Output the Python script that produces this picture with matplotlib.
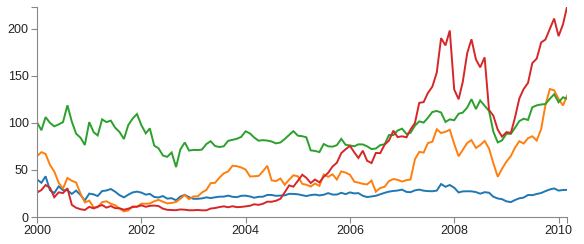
import numpy as np
import pandas as pd
import matplotlib
matplotlib.use("Agg")
import matplotlib.pyplot as plt
import matplotlib.dates as mdates

# monthly closing prices, Jan 2000 - Mar 2010
months = pd.date_range("2000-01-01", "2010-03-01", freq="MS")

msft = [39.81, 36.35, 43.22, 28.37, 25.45, 32.54, 28.4, 28.4, 24.53, 28.02, 23.34, 17.65,
        24.84, 24, 22.25, 27.56, 28.14, 29.7, 26.93, 23.21, 20.82, 23.65, 26.12, 26.95,
        25.92, 23.73, 24.53, 21.26, 20.71, 22.25, 19.52, 19.97, 17.79, 21.75, 23.46, 21.03,
        19.31, 19.34, 19.76, 20.87, 20.09, 20.93, 21.56, 21.65, 22.69, 21.45, 21.1, 22.46,
        22.69, 21.77, 20.46, 21.45, 21.53, 23.44, 23.38, 22.47, 22.76, 23.02, 24.6, 24.52,
        24.11, 23.15, 22.24, 23.28, 23.82, 22.93, 23.64, 25.35, 23.83, 23.8, 25.71, 24.29,
        26.14, 25.04, 25.36, 22.5, 21.19, 21.8, 22.51, 24.13, 25.68, 26.96, 27.66, 28.13,
        29.07, 26.63, 26.35, 28.3, 29.11, 27.95, 27.5, 27.34, 28.04, 35.03, 32.09, 34,
        31.13, 26.07, 27.21, 27.34, 27.25, 26.47, 24.75, 26.36, 25.78, 21.57, 19.66, 18.91,
        16.63, 15.81, 17.99, 19.84, 20.59, 23.42, 23.18, 24.43, 25.49, 27.48, 29.27, 30.34,
        28.05, 28.67, 28.8]

amzn = [64.56, 68.87, 67, 55.19, 48.31, 36.31, 30.12, 41.5, 38.44, 36.62, 24.69, 15.56,
        17.31, 10.19, 10.23, 15.78, 16.69, 14.15, 12.49, 8.94, 5.97, 6.98, 11.32, 10.82,
        14.19, 14.1, 14.3, 16.69, 18.23, 16.25, 14.45, 14.94, 15.93, 19.36, 23.35, 18.89,
        21.85, 22.01, 26.03, 28.69, 35.89, 36.32, 41.64, 46.32, 48.43, 54.43, 53.97, 52.62,
        50.4, 43.01, 43.28, 43.6, 48.5, 54.4, 38.92, 38.14, 40.86, 34.13, 39.68, 44.29,
        43.22, 35.18, 34.27, 32.36, 35.51, 33.09, 45.15, 42.7, 45.3, 39.86, 48.46, 47.15,
        44.82, 37.44, 36.53, 35.21, 34.61, 38.68, 26.89, 30.83, 32.12, 38.09, 40.34, 39.46,
        37.67, 39.14, 39.79, 61.33, 69.14, 68.41, 78.54, 79.91, 93.15, 89.15, 90.56, 92.64,
        77.7, 64.47, 71.3, 78.63, 81.62, 73.33, 76.34, 80.81, 72.76, 57.24, 42.7, 51.28,
        58.82, 64.79, 73.44, 80.52, 77.99, 83.66, 85.76, 81.19, 93.36, 118.81, 135.91, 134.52,
        125.41, 118.4, 128.82]

ibm = [100.52, 92.11, 106.11, 99.95, 96.31, 98.33, 100.74, 118.62, 101.19, 88.5, 84.12, 76.47,
       100.76, 89.98, 86.63, 103.7, 100.82, 102.35, 94.87, 90.25, 82.82, 97.58, 104.5, 109.36,
       97.54, 88.82, 94.15, 75.82, 72.97, 65.31, 63.86, 68.52, 53.01, 71.76, 79.16, 70.58,
       71.22, 71.13, 71.57, 77.47, 80.48, 75.42, 74.28, 75.12, 80.91, 81.96, 83.08, 85.05,
       91.06, 88.7, 84.41, 81.04, 81.59, 81.19, 80.19, 78.17, 79.13, 82.84, 87.15, 91.16,
       86.39, 85.78, 84.66, 70.77, 70.18, 68.93, 77.53, 75.07, 74.7, 76.25, 82.98, 76.73,
       75.89, 75.09, 77.17, 77.05, 75.04, 72.15, 72.7, 76.35, 77.26, 87.06, 86.95, 91.9,
       93.79, 88.18, 89.44, 96.98, 101.54, 100.25, 105.4, 111.54, 112.6, 111, 100.9, 103.7,
       102.75, 109.64, 110.87, 116.23, 125.14, 114.6, 123.74, 118.16, 112.66, 90.66, 79.21, 81.38,
       88.47, 88.29, 94.55, 101.82, 104.39, 103.07, 116.52, 118.56, 119.52, 119.94, 125.57, 130.39,
       121.85, 127.16, 125.55]

aapl = [25.94, 28.66, 33.95, 31.01, 21, 26.19, 25.41, 30.47, 12.88, 9.78, 8.25, 7.44,
        10.81, 9.12, 11.03, 12.74, 9.98, 11.62, 9.4, 9.27, 7.76, 8.78, 10.65, 10.95,
        12.36, 10.85, 11.84, 12.14, 11.65, 8.86, 7.63, 7.38, 7.25, 8.03, 7.75, 7.16,
        7.18, 7.51, 7.07, 7.11, 8.98, 9.53, 10.54, 11.31, 10.36, 11.44, 10.45, 10.69,
        11.28, 11.96, 13.52, 12.89, 14.03, 16.27, 16.17, 17.25, 19.38, 26.2, 33.53, 32.2,
        38.45, 44.86, 41.67, 36.06, 39.76, 36.81, 42.65, 46.89, 53.61, 57.59, 67.82, 71.89,
        75.51, 68.49, 62.72, 70.39, 59.77, 57.27, 67.96, 67.85, 76.98, 81.08, 91.66, 84.84,
        85.73, 84.61, 92.91, 99.8, 121.19, 122.04, 131.76, 138.48, 153.47, 189.95, 182.22, 198.08,
        135.36, 125.02, 143.5, 173.95, 188.75, 167.44, 158.95, 169.53, 113.66, 107.59, 92.67, 85.35,
        90.13, 89.31, 105.12, 125.83, 135.81, 142.43, 163.39, 168.21, 185.35, 188.5, 199.91, 210.73,
        192.06, 204.62, 223.02]

series = [msft, amzn, ibm, aapl]
colors = ["#1f77b4", "#ff7f0e", "#2ca02c", "#d62728"]
y_ticks = [0, 50, 100, 150, 200]
x_years = list(range(2000, 2011, 2))

fig = plt.figure(figsize=(5.84, 2.44), dpi=100)
ax = fig.add_axes([37 / 584, 27 / 244, 530 / 584, 210 / 244])

for vals, c in zip(series, colors):
    ax.plot(months, vals, color=c, linewidth=1.4, solid_joinstyle="miter")

ymax = max(max(s) for s in series)
ax.set_xlim(months[0], months[-1])
ax.set_ylim(0, ymax)

axis_col = "#888888"
for side in ["top", "right"]:
    ax.spines[side].set_visible(False)
for side in ["left", "bottom"]:
    ax.spines[side].set_color(axis_col)
    ax.spines[side].set_linewidth(0.8)

# year ticks plus the outer tick at the end of the domain
xt = [pd.Timestamp(f"{y}-01-01") for y in x_years] + [months[-1]]
ax.set_xticks(mdates.date2num(xt))
ax.set_xticklabels([str(y) for y in x_years] + [""])
ax.set_yticks(y_ticks + [ymax])
ax.set_yticklabels([str(v) for v in y_ticks] + [""])

ax.tick_params(axis="both", length=4.5, width=0.8, color=axis_col,
               labelsize=9, labelcolor="#222222", pad=1.5)
for lab in ax.get_xticklabels() + ax.get_yticklabels():
    lab.set_fontfamily("Liberation Sans")

fig.savefig("out.png", dpi=100)
